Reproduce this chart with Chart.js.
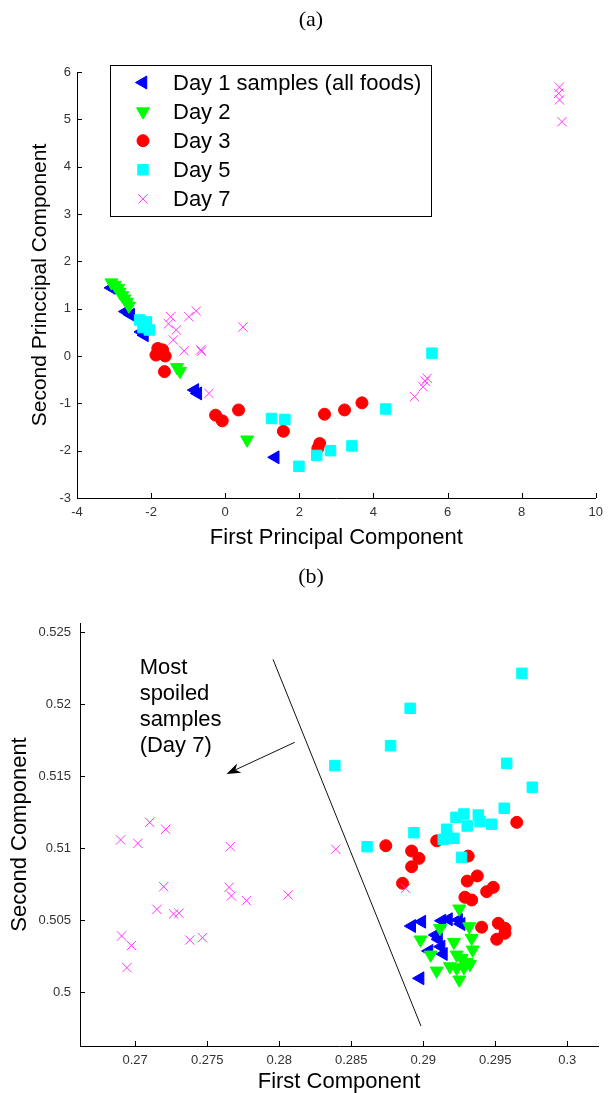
<!DOCTYPE html>
<html>
<head>
<meta charset="utf-8">
<title>PCA of food samples</title>
<script src="https://cdn.jsdelivr.net/npm/chart.js@4/dist/chart.umd.min.js"></script>
<style>
  html, body { margin: 0; padding: 0; background: #fff; }
  body { position: relative; width: 610px; height: 1093px; overflow: hidden; }
  canvas { position: absolute; left: 0; }
  #chartA { top: 0; }
  #chartB { top: 590px; }
  .caption { position: absolute; left: 0; width: 622px; text-align: center;
             font: 22px "Liberation Serif", "DejaVu Serif", serif; line-height: 24px; color: #000; }
</style>
</head>
<body>
<canvas id="chartA" width="610" height="590"></canvas>
<canvas id="chartB" width="610" height="503"></canvas>
<div class="caption" style="top: 7px;">(a)</div>
<div class="caption" style="top: 564px;">(b)</div>
<script>
const seriesNames = ['Day 1 samples (all foods)', 'Day 2', 'Day 3', 'Day 5', 'Day 7'];

// (a) first two principal components
const pcaXTicks = [-4, -2, 0, 2, 4, 6, 8, 10];
const pcaYTicks = [-3, -2, -1, 0, 1, 2, 3, 4, 5, 6];
const pcaDay1X = [-3.07, -2.68, -2.55, -2.26, -2.18, -0.82, -0.74, 1.35];
const pcaDay1Y = [1.44, 0.94, 0.87, 0.51, 0.44, -0.72, -0.79, -2.14];
const pcaDay2X = [-3.07, -2.98, -2.89, -2.85, -2.78, -2.72, -2.65, -2.6, -1.3, -1.22, 0.59];
const pcaDay2Y = [1.55, 1.5, 1.43, 1.35, 1.28, 1.21, 1.14, 1.06, -0.24, -0.32, -1.77];
const pcaDay3X = [-1.82, -1.69, -1.87, -1.62, -1.64, -0.26, -0.08, 0.36, 1.57, 2.55, 2.5, 2.68, 3.22, 3.69];
const pcaDay3Y = [0.16, 0.13, 0.02, 0.0, -0.33, -1.25, -1.37, -1.14, -1.59, -1.85, -1.95, -1.23, -1.14, -0.99];
const pcaDay5X = [-2.31, -2.13, -2.22, -2.05, 1.25, 1.61, 1.99, 2.47, 2.84, 3.42, 4.33, 5.58];
const pcaDay5Y = [0.76, 0.72, 0.6, 0.55, -1.32, -1.34, -2.33, -2.1, -2.0, -1.9, -1.12, 0.06];
const pcaDay7X = [-1.47, -1.53, -1.32, -1.4, -1.11, -0.98, -0.78, -0.66, -0.64, 0.48, -0.44,
                  5.45, 5.4, 5.34, 5.11, 9.02, 9.0, 9.02, 9.09];
const pcaDay7Y = [0.83, 0.68, 0.55, 0.34, 0.11, 0.83, 0.95, 0.13, 0.1, 0.61, -0.79,
                  -0.47, -0.53, -0.65, -0.86, 5.68, 5.55, 5.41, 4.95];

// (b) first / second component
const compXTicks = [0.27, 0.275, 0.28, 0.285, 0.29, 0.295, 0.3];
const compYTicks = [0.5, 0.505, 0.51, 0.515, 0.52, 0.525];
const compDay1X = [0.2892, 0.2899, 0.2913, 0.29175, 0.29245, 0.29263, 0.29087, 0.29106, 0.2904, 0.29124, 0.2914, 0.28978];
const compDay1Y = [0.50458, 0.50488, 0.50495, 0.50505, 0.505, 0.50472, 0.50396, 0.50366, 0.50285, 0.50315, 0.50264, 0.50095];
const compDay2X = [0.2925, 0.29116, 0.29319, 0.29336, 0.28981, 0.29213, 0.29343, 0.29051, 0.29232,
                   0.29266, 0.29301, 0.29185, 0.29324, 0.29093, 0.2925, 0.29232, 0.29282];
const compDay2Y = [0.50578, 0.50443, 0.50455, 0.50374, 0.50363, 0.50346, 0.50293, 0.50258, 0.50258,
                   0.50235, 0.50207, 0.50177, 0.50193, 0.50147, 0.50085, 0.50166, 0.50171];
const compDay3X = [0.2874, 0.29093, 0.29649, 0.28919, 0.2897, 0.28919, 0.28856, 0.29312, 0.29305, 0.29375,
                   0.2944, 0.29486, 0.29289, 0.29336, 0.29405, 0.29521, 0.29567, 0.29567, 0.2951];
const compDay3Y = [0.51016, 0.5105, 0.51178, 0.50979, 0.50928, 0.5087, 0.50755, 0.50944, 0.5077, 0.50806,
                   0.50697, 0.50727, 0.50658, 0.50639, 0.5045, 0.50477, 0.50442, 0.50408, 0.50366];
const compDay5X = [0.28386, 0.29685, 0.28909, 0.28773, 0.29579, 0.29757, 0.29562, 0.29475, 0.29382, 0.29282,
                   0.29227, 0.29394, 0.29305, 0.29162, 0.29166, 0.29213, 0.29139, 0.28935, 0.2861, 0.29266];
const compDay5Y = [0.51572, 0.52213, 0.5197, 0.5171, 0.51588, 0.51422, 0.51276, 0.51165, 0.51229, 0.51236,
                   0.51213, 0.51183, 0.51153, 0.5113, 0.51078, 0.51067, 0.5106, 0.51106, 0.51009, 0.50935];
const compDay7X = [0.26899, 0.27019, 0.27101, 0.27212, 0.27661, 0.28393, 0.27198, 0.27151, 0.27267, 0.27304,
                   0.27652, 0.27668, 0.27773, 0.28062, 0.26906, 0.26974, 0.26943, 0.27379, 0.27467, 0.28877];
const compDay7Y = [0.51056, 0.51032, 0.51178, 0.5113, 0.51009, 0.50991, 0.50731, 0.50574, 0.50542, 0.50547,
                   0.50727, 0.50667, 0.50634, 0.50674, 0.50389, 0.50322, 0.50169, 0.50361, 0.50377, 0.5072];

// annotation of (b), in data units
const dividerX = [0.27957, 0.28984];
const dividerY = [0.5231, 0.49764];
const arrowX = [0.28108, 0.27634];
const arrowY = [0.51734, 0.51514];
const noteLines = ['Most', 'spoiled', 'samples', '(Day 7)'];
const noteX = 0.27031;
const noteY = 0.52248;

const FONT = '"Liberation Sans", Arial, sans-serif';

// matlab-ish markers
const markers = [
  { style: 'triangle', rotation: -90, radius: 7.5, color: '#0000ff' },
  { style: 'triangle', rotation: 180, radius: 7.5, color: '#00ff00' },
  { style: 'circle', rotation: 0, radius: 6, color: '#ff0000' },
  { style: 'rect', rotation: 0, radius: 7.4, color: '#00ffff' },
  { style: 'crossRot', rotation: 0, radius: 6.6, color: '#ff33ff' },
];

function buildDatasets(xsList, ysList) {
  return xsList.map((xs, i) => ({
    label: seriesNames[i],
    data: xs.map((x, j) => ({ x: x, y: ysList[i][j] })),
    pointStyle: markers[i].style,
    pointRotation: markers[i].rotation,
    pointRadius: markers[i].radius,
    pointBackgroundColor: markers[i].color,
    pointBorderColor: markers[i].color,
    pointBorderWidth: 1,
    showLine: false,
    order: xsList.length - i, // later days on top
  }));
}

function axis(cfg) {
  return {
    type: 'linear',
    min: cfg.min,
    max: cfg.max,
    afterBuildTicks: s => { s.ticks = cfg.ticks.map(v => ({ value: v })); },
    afterFit: s => {
      if (cfg.width !== undefined) s.width = cfg.width;
      if (cfg.height !== undefined) s.height = cfg.height;
    },
    grid: { drawOnChartArea: false, drawTicks: false },
    border: { display: true, color: '#000', width: 1 },
    ticks: {
      autoSkip: false, maxRotation: 0, padding: cfg.tickPad, color: '#333',
      font: { family: FONT, size: 13 },
      callback: v => String(v),
    },
    title: {
      display: true, text: cfg.title, color: '#000',
      font: { family: FONT, size: cfg.titleSize || 22, lineHeight: 1 },
      padding: cfg.titlePad,
    },
  };
}

// ticks pointing inwards, like matlab
const inwardTicks = {
  id: 'inwardTicks',
  afterDraw(chart) {
    const { ctx, chartArea: a, scales: { x, y } } = chart;
    ctx.save();
    ctx.strokeStyle = '#000';
    ctx.lineWidth = 1;
    ctx.beginPath();
    x.ticks.forEach(t => {
      const p = Math.round(x.getPixelForValue(t.value)) + 0.5;
      ctx.moveTo(p, a.bottom);
      ctx.lineTo(p, a.bottom - 5);
    });
    y.ticks.forEach(t => {
      const p = Math.round(y.getPixelForValue(t.value)) + 0.5;
      ctx.moveTo(a.left, p);
      ctx.lineTo(a.left + 5, p);
    });
    ctx.stroke();
    ctx.restore();
  }
};

const legendBoxA = {
  id: 'legendBoxA',
  afterDatasetsDraw(chart) {
    const { ctx } = chart;
    ctx.save();
    ctx.fillStyle = '#fff';
    ctx.fillRect(110.5, 65.5, 321, 151);
    ctx.strokeStyle = '#000';
    ctx.lineWidth = 1;
    ctx.strokeRect(110.5, 65.5, 321, 151);
    ctx.font = '22px ' + FONT;
    ctx.textBaseline = 'middle';
    ctx.textAlign = 'left';
    chart.data.datasets.forEach((ds, i) => {
      const rowY = 82.5 + i * 29.1;
      ctx.fillStyle = ds.pointBackgroundColor;
      ctx.strokeStyle = ds.pointBorderColor;
      ctx.lineWidth = 1;
      Chart.helpers.drawPoint(ctx, {
        pointStyle: ds.pointStyle, rotation: ds.pointRotation,
        radius: ds.pointRadius, borderWidth: 1
      }, 143, rowY);
      ctx.fillStyle = '#000';
      ctx.fillText(ds.label, 173, rowY + 1);
    });
    ctx.restore();
  }
};

const notesB = {
  id: 'notesB',
  afterDatasetsDraw(chart) {
    const { ctx, scales: { x, y } } = chart;
    ctx.save();
    ctx.strokeStyle = '#111';
    ctx.fillStyle = '#000';
    ctx.lineWidth = 1;

    ctx.beginPath();
    ctx.moveTo(x.getPixelForValue(dividerX[0]), y.getPixelForValue(dividerY[0]));
    ctx.lineTo(x.getPixelForValue(dividerX[1]), y.getPixelForValue(dividerY[1]));
    ctx.stroke();

    const x0 = x.getPixelForValue(arrowX[0]), y0 = y.getPixelForValue(arrowY[0]);
    const x1 = x.getPixelForValue(arrowX[1]), y1 = y.getPixelForValue(arrowY[1]);
    const ang = Math.atan2(y1 - y0, x1 - x0);
    const c = Math.cos(ang), s = Math.sin(ang);
    const len = 14, half = 5;
    ctx.beginPath();
    ctx.moveTo(x0, y0);
    ctx.lineTo(x1 - len * 0.7 * c, y1 - len * 0.7 * s);
    ctx.stroke();
    ctx.beginPath();
    ctx.moveTo(x1, y1);
    ctx.lineTo(x1 - len * c - half * s, y1 - len * s + half * c);
    ctx.lineTo(x1 - len * 0.7 * c, y1 - len * 0.7 * s);
    ctx.lineTo(x1 - len * c + half * s, y1 - len * s - half * c);
    ctx.closePath();
    ctx.fill();

    ctx.font = '22px ' + FONT;
    ctx.textBaseline = 'middle';
    ctx.textAlign = 'left';
    const tx = x.getPixelForValue(noteX), ty = y.getPixelForValue(noteY);
    noteLines.forEach((t, i) => ctx.fillText(t, tx, ty + i * 25.9));
    ctx.restore();
  }
};

function baseOptions(padding, scales) {
  return {
    responsive: false,
    animation: false,
    events: [],
    layout: { padding: padding },
    plugins: { legend: { display: false }, tooltip: { enabled: false } },
    scales: scales,
  };
}

new Chart(document.getElementById('chartA'), {
  type: 'scatter',
  data: {
    datasets: buildDatasets(
      [pcaDay1X, pcaDay2X, pcaDay3X, pcaDay5X, pcaDay7X],
      [pcaDay1Y, pcaDay2Y, pcaDay3Y, pcaDay5Y, pcaDay7Y])
  },
  options: baseOptions({ top: 72, right: 10, bottom: 0, left: 0 }, {
    x: axis({ min: -4, max: 10, ticks: pcaXTicks, height: 92, tickPad: 7,
              title: 'First Principal Component', titlePad: { top: 0, bottom: 41 } }),
    y: axis({ min: -3, max: 6, ticks: pcaYTicks, width: 77, tickPad: 6, titleSize: 21,
              title: 'Second Princcipal Component', titlePad: { top: 29.5, bottom: 0 } }),
  }),
  plugins: [inwardTicks, legendBoxA],
});

new Chart(document.getElementById('chartB'), {
  type: 'scatter',
  data: {
    datasets: buildDatasets(
      [compDay1X, compDay2X, compDay3X, compDay5X, compDay7X],
      [compDay1Y, compDay2Y, compDay3Y, compDay5Y, compDay7Y])
  },
  options: baseOptions({ top: 33, right: 12, bottom: 0, left: 0 }, {
    x: axis({ min: 0.26617, max: 0.30213, ticks: compXTicks, height: 47, tickPad: 7,
              title: 'First Component', titlePad: { top: 0, bottom: 0 } }),
    y: axis({ min: 0.49625, max: 0.525625, ticks: compYTicks, width: 80, tickPad: 9,
              title: 'Second Component', titlePad: { top: 9, bottom: 0 } }),
  }),
  plugins: [inwardTicks, notesB],
});
</script>
</body>
</html>
